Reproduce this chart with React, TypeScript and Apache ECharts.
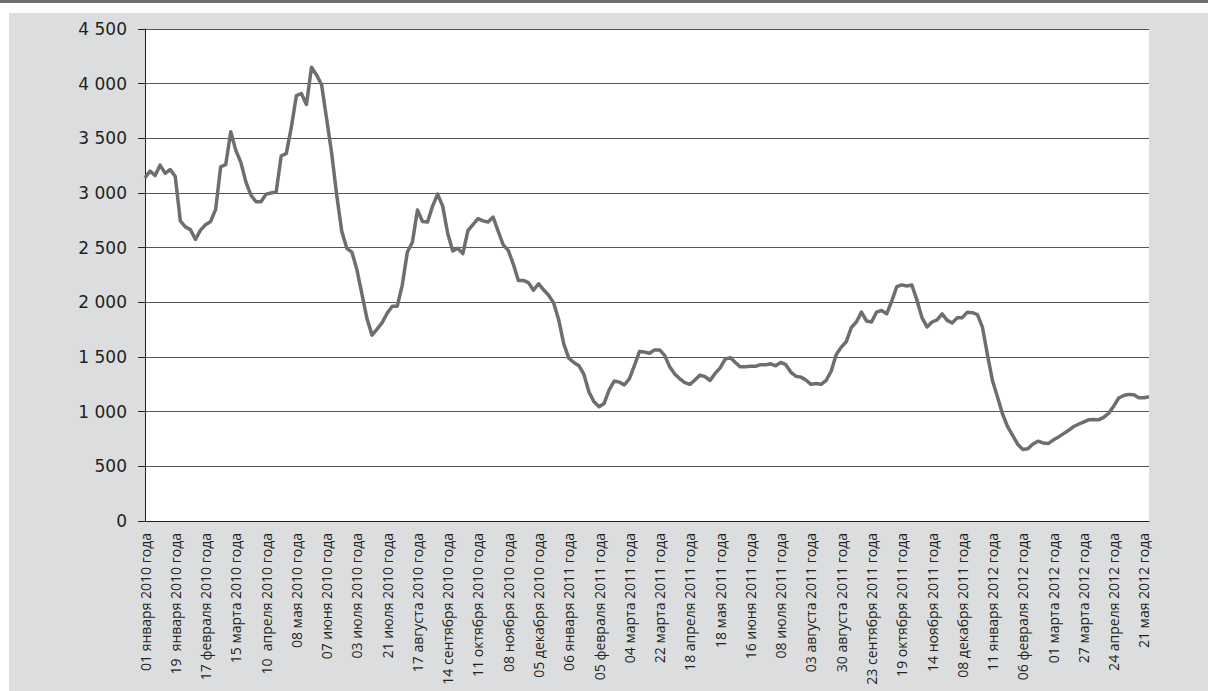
import React, { useEffect, useRef } from "react";
import * as echarts from "echarts";

// Tick labels of the x axis (one every SAMPLES_PER_LABEL points)
const xLabels: string[] = [
  "01 января 2010 года", "19  января 2010 года", "17 февраля 2010 года", "15 марта 2010 года",
  "10  апреля 2010 года", "08 мая 2010 года", "07 июня 2010 года", "03 июля 2010 года",
  "21 июля 2010 года", "17 августа 2010 года", "14 сентября 2010 года", "11 октября 2010 года",
  "08 ноября 2010 года", "05 декабря 2010 года", "06 января 2011 года", "05 февраля 2011 года",
  "04 марта 2011 года", "22 марта 2011 года", "18 апреля 2011 года", "18 мая 2011 года",
  "16 июня 2011 года", "08 июля 2011 года", "03 августа 2011 года", "30 августа 2011 года",
  "23 сентября 2011 года", "19 октября 2011 года", "14 ноября 2011 года", "08 декабря 2011 года",
  "11 января 2012 года", "06 февраля 2012 года", "01 марта 2012 года", "27 марта 2012 года",
  "24 апреля 2012 года", "21 мая 2012 года",
];

const SAMPLES_PER_LABEL = 6;

// Series values, evenly spaced (6 per label interval)
const seriesValues: number[] = [
  3140, 3200, 3160, 3255, 3180, 3215, 3150, 2745, 2690, 2665,
  2575, 2660, 2710, 2740, 2850, 3240, 3260, 3560, 3390, 3280,
  3100, 2980, 2920, 2920, 2990, 3000, 3010, 3340, 3360, 3600,
  3890, 3910, 3810, 4150, 4080, 3990, 3680, 3363, 2980, 2650,
  2494, 2460, 2300, 2075, 1850, 1700, 1755, 1815, 1900, 1965,
  1965, 2160, 2460, 2550, 2845, 2740, 2735, 2880, 2990, 2880,
  2630, 2470, 2495, 2445, 2655, 2710, 2765, 2745, 2735, 2780,
  2650, 2525, 2475, 2350, 2200, 2200, 2180, 2110, 2170, 2115,
  2065, 1995, 1840, 1620, 1490, 1450, 1420, 1340, 1180, 1090,
  1045, 1075, 1200, 1280, 1270, 1245, 1300, 1420, 1550, 1545,
  1534, 1565, 1565, 1515, 1410, 1345, 1300, 1265, 1250, 1290,
  1335, 1320, 1285, 1350, 1400, 1480, 1495, 1450, 1410, 1410,
  1415, 1415, 1430, 1428, 1438, 1420, 1450, 1430, 1362, 1324,
  1316, 1290, 1250, 1257, 1250, 1285, 1370, 1520, 1590, 1640,
  1770, 1820, 1910, 1830, 1820, 1910, 1925, 1895, 2010, 2143,
  2160, 2150, 2158, 2020, 1860, 1775, 1820, 1840, 1895, 1835,
  1812, 1860, 1860, 1910, 1905, 1887, 1770, 1515, 1280, 1130,
  975, 860, 780, 700, 655, 660, 705, 730, 714, 708,
  740, 767, 797, 827, 862, 885, 905, 925, 928, 925,
  948, 985, 1050, 1125, 1148, 1158, 1155, 1128, 1127, 1137,
];

const yMin = 0;
const yMax = 4500;
const yStep = 500;

const fmtThousands = (v: number) => String(v).replace(/\B(?=(\d{3})+(?!\d))/g, " ");

export default function App() {
  const ref = useRef<HTMLDivElement>(null);

  useEffect(() => {
    if (!ref.current) return;
    const chart = echarts.init(ref.current, null, { renderer: "svg" });
    const data = seriesValues.map((v, i) => [i / SAMPLES_PER_LABEL, v]);
    const xMax = (seriesValues.length - 1) / SAMPLES_PER_LABEL;

    chart.setOption({
      animation: false,
      backgroundColor: "#ffffff",
      graphic: [
        { type: "rect", left: 0, top: 0, shape: { width: 1208, height: 3 }, style: { fill: "#6d6e71" }, silent: true, z: -10 },
        { type: "rect", left: 9, top: 13, shape: { width: 1199, height: 678 }, style: { fill: "#dcdddf" }, silent: true, z: -10 },
      ],
      grid: {
        left: 145,
        right: 59,
        top: 29,
        bottom: 170,
        show: true,
        backgroundColor: "#ffffff",
        borderWidth: 0,
      },
      xAxis: {
        type: "value",
        min: 0,
        max: xMax,
        interval: 1,
        axisLine: { show: true, lineStyle: { color: "#231f20", width: 1 } },
        axisTick: { show: false },
        splitLine: { show: false },
        axisLabel: {
          rotate: 90,
          margin: 12,
          fontFamily: "Open Sans",
          fontSize: 14,
          color: "#231f20",
          showMaxLabel: false,
          formatter: (v: number) => {
            const k = Math.round(v);
            return Math.abs(v - k) < 1e-6 && xLabels[k] ? xLabels[k] : "";
          },
        },
      },
      yAxis: {
        type: "value",
        min: yMin,
        max: yMax,
        interval: yStep,
        axisLine: { show: true, lineStyle: { color: "#231f20", width: 1 } },
        axisTick: { show: true, inside: false, length: 7, lineStyle: { color: "#231f20" } },
        splitLine: { show: true, lineStyle: { color: "#555555", width: 1 } },
        axisLabel: {
          margin: 18,
          fontFamily: "DejaVu Sans",
          fontSize: 17,
          color: "#231f20",
          formatter: (v: number) => fmtThousands(v),
        },
      },
      series: [
        {
          type: "line",
          data,
          showSymbol: false,
          symbol: "none",
          lineStyle: { color: "#6d6e71", width: 3.5, join: "round" },
          itemStyle: { color: "#6d6e71" },
        },
      ],
    });

    return () => chart.dispose();
  }, []);

  return (
    <div
      ref={ref}
      style={{ position: "absolute", left: 0, top: 0, width: 1208, height: 691 }}
    />
  );
}
